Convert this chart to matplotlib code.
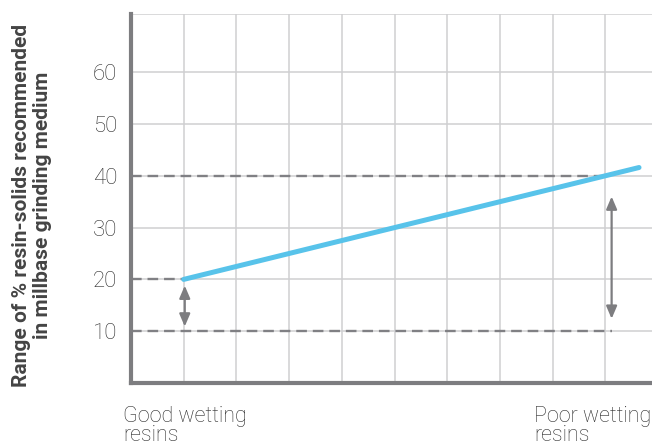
import matplotlib
matplotlib.use("Agg")
import matplotlib.pyplot as plt

plt.rcParams['font.family'] = ['Roboto', 'DejaVu Sans']

# resin solids line (x in grid columns, y in %)
line_x = [1.0, 9.64]
line_y = [20.0, 41.6]

# dashed reference levels: (level, x end)
ref_levels = [20, 10, 40]
ref_ends = [1.0, 9.12, 9.0]

# double arrows: x, y from, y to
arrow_x = [1.02, 9.12]
arrow_lo = [10.9, 12.4]
arrow_hi = [18.8, 36.0]

yticks = [10, 20, 30, 40, 50, 60]
ytick_labels = ['10', '20', '30', '40', '50', '60']
xgrid = [1, 2, 3, 4, 5, 6, 7, 8, 9]

W, H = 652, 447
fig = plt.figure(figsize=(W / 100, H / 100), dpi=100)
ax = fig.add_axes([131 / W, (H - 383) / H, (W - 131) / W, (383 - 14) / H])

ax.set_xlim(0, (W - 131) / 52.7)
ax.set_ylim(0, 369 / 5.18)

ax.set_xticks(xgrid)
ax.set_xticklabels([])
ax.set_yticks(yticks)
ax.set_yticklabels(ytick_labels)
ax.tick_params(length=0, pad=10, labelsize=16, labelcolor='#2b2b2b')
for t in ax.get_yticklabels():
    t.set_fontweight('light')
ax.grid(True, color='#cfcfd1', lw=1.1, zorder=0)
ax.axhline(ax.get_ylim()[1], color='#cfcfd1', lw=1.1, zorder=0)
ax.set_axisbelow(True)

for s in ['top', 'right']:
    ax.spines[s].set_visible(False)
for s in ['left', 'bottom']:
    ax.spines[s].set_color('#7d7d80')
    ax.spines[s].set_linewidth(3)

for lvl, xe in zip(ref_levels, ref_ends):
    ax.plot([0, xe], [lvl, lvl], color='#808084', lw=1.7,
            dashes=[4.5, 2.5], zorder=2, clip_on=False)

ax.plot(line_x, line_y, color='#58c3ea', lw=3.6, solid_capstyle='round', zorder=3)

for xa, lo, hi in zip(arrow_x, arrow_lo, arrow_hi):
    ax.annotate('', xy=(xa, hi), xytext=(xa, lo),
                arrowprops=dict(arrowstyle='<|-|>,head_length=0.75,head_width=0.32',
                                color='#7d7d80', lw=1.6, shrinkA=0, shrinkB=0))

fig.text(12 / W, 0.5 + (H / 2 - 205) / H,
         'Range of % resin-solids recommended\nin millbase grinding medium',
         rotation=90, ha='left', va='center', multialignment='center',
         fontsize=15, fontweight='bold', color='#444444', linespacing=1.1)

fig.text(123 / W, (H - 406) / H, 'Good wetting\nresins', ha='left', va='top',
         fontsize=15.5, fontweight='light', color='#2b2b2b', linespacing=0.9)
fig.text(534 / W, (H - 406) / H, 'Poor wetting\nresins', ha='left', va='top',
         fontsize=15.5, fontweight='light', color='#2b2b2b', linespacing=0.9)

fig.savefig('out.png', dpi=100)
